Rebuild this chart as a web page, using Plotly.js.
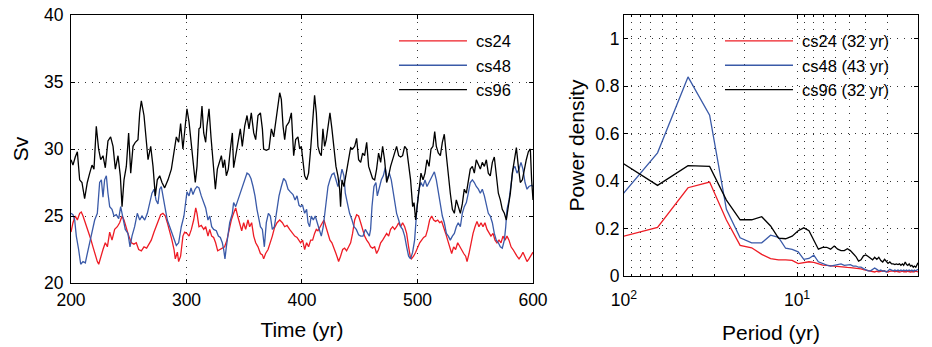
<!DOCTYPE html>
<html><head><meta charset="utf-8">
<script src="https://cdn.plot.ly/plotly-3.0.1.min.js"></script>
<style>html,body{margin:0;padding:0;background:#fff}</style>
</head><body><div id="chart" style="width:932px;height:347px"></div>
<script>
// ---- Left panel: time series (Sv) ----
const t24 = [200,201.7,203.7,205.5,207.5,208.9,210.4,212.4,214.7,217,219,221,222.8,224,225.7,227.7,229.7,231.5,233.5,235.5,237.8,240.1,242.1,244.2,245.9,247.9,250,252.3,254.5,256.5,258.6,260.9,263.2,265.5,267.8,269.5,271.9,273.6,275.3,277.6,279.6,281.7,283.4,285.4,287.4,289.2,290.3,292.1,293.2,294.9,296.9,298.4,
300.4,302.2,304.2,306.2,308,309.1,310.8,312.8,314.9,316.6,318.6,320.1,321.8,323.5,325.2,327,328.7,331,333,335,336.8,338.8,340.8,342.6,344.3,346,347.8,349.5,351.2,353.2,354.7,356.4,358.2,359.9,361.9,364,365.7,366.8,368.5,370.6,372.6,374.3,376.1,378.4,380.7,383,385,387,389.3,391.6,393.7,395.7,
398.8,400.5,402.3,404,405.7,407.5,409.2,410.9,412.4,413.8,415.5,417.3,419,420.7,422.5,424.2,425.9,427.7,429.4,430.6,431.7,433.4,435.2,436.9,438.6,440.4,442.1,443.8,445.6,447.3,449,450.8,452.5,454.2,456,457.7,459.4,461.1,462.9,464.6,466.3,468.1,469.8,471.5,473.3,475,476.7,478.5,480.2,481.9,483.7,485.4,487.1,488.9,490.6,492.3,493.7,494.8,496.6,
498.4,500.1,501.9,503.6,505.3,507.1,508.8,510.5,512.3,514,515.7,517.5,519.2,520.9,522.6,524.4,526.1,527.8,529.6,531.3,533,534.8,536.5,538.2,540,541.7,542.9,544.6,546.3,548.1,549.8,551.5,553.2,555,556.7,558.4,560.2,561.9,563.6,565.4,567.1,568.8,570.6,572.3,574,575.8,577.5,579.2,581,582.7,584.4,586.1,587.9,589.6,591.3,593.1,594.8,596.5,598.3,600];
const v24 = [23.8,24.5,25.0,24.7,25.2,25.3,25.0,24.5,24.0,23.3,22.7,22.0,21.6,21.4,22.0,22.5,23.0,22.7,23.8,23.2,24.0,24.2,24.5,25.0,24.7,24.1,23.5,23.0,22.9,23.0,22.5,22.4,22.7,22.6,23.0,23.2,23.8,24.2,24.7,25.1,25.2,25.0,24.5,23.9,23.2,22.5,21.8,22.3,21.6,22.0,23.5,23.8,
23.7,23.5,24.0,24.7,25.6,25.2,24.2,24.3,24.0,24.2,23.5,24.0,23.5,23.4,23.0,22.4,22.5,22.6,22.7,23.2,24.0,24.7,25.2,25.6,25.0,24.5,23.9,24.5,24.0,24.7,24.2,24.5,23.5,23.0,22.7,22.2,22.1,21.8,22.2,22.5,23.0,23.5,24.1,24.5,24.7,24.5,24.2,24.3,24.0,23.7,23.5,23.4,
23.0,23.2,22.5,23.0,22.7,23.2,23.2,23.7,24.0,23.9,24.2,24.5,24.7,24.2,23.7,23.2,23.0,22.5,22.2,21.9,21.6,22.0,22.5,22.6,22.4,22.7,23.0,23.7,24.7,25.1,25.0,24.5,24.0,23.5,23.2,23.0,22.7,22.6,22.7,22.2,22.5,23.0,23.2,23.5,23.7,23.5,24.0,24.2,24.0,24.2,24.5,24.2,24.5,24.2,23.7,22.7,22.0,21.8,22.0,
22.3,22.7,23.0,23.2,23.4,23.5,24.0,24.7,25.0,24.7,24.6,24.7,24.5,24.6,24.2,23.7,23.2,22.7,22.2,22.7,22.5,23.0,22.7,22.5,22.2,22.0,21.6,22.2,23.0,23.7,24.2,24.6,24.2,24.5,24.2,24.5,24.0,23.7,23.5,23.7,23.2,23.0,23.2,23.0,23.5,23.2,23.5,23.2,22.7,22.5,22.2,22.0,21.8,22.0,22.3,21.9,21.6,21.8,22.1,22.3];

const t48 = [200,201.7,203.2,204.6,206.6,208.4,210.4,212.4,214.1,216.2,218.2,220.5,222.8,224.8,226.3,227.7,229.1,230.6,232,233.5,235.5,237.2,239.2,241.3,243,245,247,249.3,251.1,252.8,255.1,257.4,259.5,261.5,263.8,266.1,268.1,270.1,271.9,273.6,275.3,276.8,278.2,279.9,281.7,283.4,285.4,287.4,289.2,291.2,293.2,295.5,297.8,
300.4,302.2,303.9,305.6,307.4,309.1,310.8,312.8,314.9,316.6,318.6,320.1,321.8,323.5,325.8,327.6,329.3,331,332.2,333.3,334.5,335.9,337.4,339.7,340.8,342.6,344.6,346.6,348.3,350.4,352.4,354.1,355.8,357.6,359.3,361,362.8,364,365.7,367.4,369.1,370.9,372.6,374.3,376.1,377.8,380.1,382.1,384.1,385.9,387.9,389.9,392.2,394,395.7,397.4,
398.8,400.5,402.3,404,405.2,406.6,408,409.8,411.5,413.2,415,416.7,418.4,419.6,421,422.5,424.2,425.9,427.7,429.4,431.1,432.9,434.6,436.3,437.5,439.2,441.2,443.3,445,447,449,450.8,452.8,454.8,456.5,458.3,459.4,460.6,462.3,464,465.2,466.9,468.7,470.4,472.1,473.8,475.6,477.3,478.7,480.2,481.9,483.7,485.4,487.1,488.9,490.6,492.3,494,495.8,
497.5,498.4,499.6,501.3,503,504.8,506.5,508.2,510,511.7,513.4,514.6,516.3,518,519.8,521.5,523.2,525,526.7,528.4,530.2,531.9,533.6,535.3,537.1,538.8,540.5,542.3,544,545.7,547.5,549.2,550.9,552.7,554.4,556.1,557.9,559.6,561.3,563,564.8,566.5,568.2,570,571.7,573.4,575.2,576.4,577.5,579.3,581,582.7,584.4,586.1,587.9,589.6,591.3,593.1,594.8,596.5,598.8,600];
const v48 = [25.2,25.1,24.7,23.5,22.5,21.4,21.6,21.5,22.2,23.0,24.0,24.7,25.2,27.5,27.7,26.4,27.7,28.0,26.7,25.7,25.5,25.0,25.1,24.8,25.7,24.7,24.0,23.7,22.7,23.5,24.2,25.2,24.7,25.0,24.7,25.2,25.9,26.7,27.0,26.2,25.9,27.0,27.2,26.5,25.5,24.7,24.2,23.7,23.3,22.8,23.0,24.2,25.0,
26.8,26.5,27.1,26.6,27.0,27.2,27.1,26.5,26.0,25.6,24.7,25.0,24.2,24.0,23.9,23.5,23.4,23.0,22.5,21.8,22.7,23.7,24.5,25.2,26.0,25.7,26.2,26.7,27.2,27.7,28.2,28.1,27.8,27.2,26.5,25.5,24.7,24.2,24.0,22.7,24.5,25.2,25.0,24.0,24.2,25.2,26.5,27.2,27.8,27.6,27.0,26.8,26.6,26.2,26.5,25.8,
25.7,25.8,25.2,25.5,24.5,24.2,25.0,24.7,25.0,24.5,24.0,23.5,24.2,25.2,26.2,27.2,27.7,28.1,28.2,27.7,27.2,27.7,28.5,28.0,26.7,26.0,25.2,24.7,24.2,24.0,23.6,23.5,23.5,24.0,23.7,23.5,24.0,25.7,27.2,27.5,26.5,27.2,27.7,28.0,28.6,27.7,28.2,27.7,27.0,26.0,25.2,24.7,24.2,24.0,23.5,22.7,22.0,21.8,22.3,
23.2,24.5,25.7,27.0,27.5,27.2,27.7,27.2,27.5,27.7,28.1,28.3,27.7,26.7,25.7,25.0,24.5,23.7,23.5,23.2,23.5,23.7,24.2,24.5,24.2,25.2,25.7,26.0,26.7,27.5,27.7,27.5,27.2,27.0,26.7,27.0,26.5,25.7,25.2,25.0,24.5,23.7,23.2,23.0,22.7,22.6,23.2,24.2,25.5,26.2,27.5,28.5,28.7,28.2,28.5,29.0,28.5,27.5,27.0,27.2,27.3,27.2];

const t96 = [200,201.7,203.7,205.5,207.5,209.5,211.8,214.1,216.2,218.2,219.9,221.9,223.9,225.7,227.7,229.7,232,234.3,236.4,238.4,240.7,242.7,244.2,245.9,247.9,249.9,251.7,253.7,255.7,258,259.5,260.9,263.2,265.2,266.7,269,271,273,274.7,276.8,278.8,281.1,284,286.9,289.2,291.2,293.2,294.9,296.9,298.4,
300.4,302.2,304.2,306.2,307.6,309.1,310.8,312,313.4,314.9,316.6,317.7,319.5,321.2,323,325,326.7,328.7,330.2,331.6,333,334.5,336.2,338,339.7,340.8,342.6,344.6,346.6,348.3,350.4,352.4,354.1,356.1,358.2,359.9,361.9,364,365.7,366.8,369.1,371.4,373.5,375.5,377.2,379,380.7,382.1,383.6,385,386.4,388.7,390.8,392.8,394.5,396.5,398,
399.4,400.8,402.3,404,405.7,407.5,409.2,410.9,412.4,413.8,415.3,416.7,418.1,419.6,421,422.5,424.2,425.9,427.7,429.4,431.1,432.6,433.4,434.6,436.3,438.3,440.4,442.1,443.8,445.6,447.3,449,450.8,452.5,454.2,456,457.7,459.4,461.1,462.9,464.6,466.3,468.1,469.8,471.5,473.3,475,476.7,478.5,480.2,481.9,483.7,485.4,487.1,488.9,490.6,492.3,494,495.8,
497,498.4,499.6,501.3,503,504.8,506.5,508.2,510,511.7,513.4,514.9,516.3,518,519.8,521.5,523.2,525,526.7,528.4,530.2,531.9,533.6,535.3,537.1,538.8,540.5,542.3,544,545.7,547.5,549.2,550.9,552.7,554.4,556.1,557.9,559.6,561.3,563,564.8,566.5,568.2,570,571.7,573.4,575.2,576.9,578.6,580.4,582.1,583.8,585.6,587.3,589,590.8,592.5,594.2,596,597.7,598.8,600];
const v96 = [29.2,28.8,29.4,29.8,27.7,27.5,26.3,27.5,28.2,28.8,28.5,31.7,30.0,29.2,29.5,28.6,30.6,30.9,30.2,28.5,29.5,28.0,25.7,27.7,28.7,31.2,28.2,30.2,30.5,30.7,32.7,33.6,32.5,30.2,29.2,30.2,28.7,26.5,27.7,28.0,27.5,27.1,27.7,28.5,30.0,30.9,30.5,31.9,30.0,31.5,
33.0,32.0,30.2,28.7,27.5,28.7,31.5,31.6,33.2,31.2,30.5,31.7,33.0,30.9,28.7,27.0,28.5,29.0,29.5,28.6,29.2,28.0,28.5,30.0,31.2,28.6,29.5,30.2,31.5,30.2,31.7,32.5,31.5,32.7,31.2,30.7,32.5,32.7,31.5,30.0,29.9,30.0,31.5,30.9,32.0,33.2,34.2,33.7,31.7,30.7,31.7,32.0,32.7,29.5,30.7,30.9,30.0,
30.2,29.2,28.0,27.7,28.2,30.0,31.7,34.0,32.7,30.2,29.7,29.5,31.5,30.2,30.7,31.7,32.7,31.5,30.0,28.7,28.0,27.0,25.7,27.7,27.2,28.2,29.5,30.1,30.0,30.2,30.8,29.2,29.0,29.7,29.5,30.5,28.7,28.2,27.8,27.7,28.5,29.7,29.0,30.2,29.2,27.5,28.0,28.7,29.2,29.7,30.2,29.5,29.4,29.5,30.2,30.0,29.0,27.7,25.7,
26.0,24.7,25.7,27.2,28.2,27.7,28.2,29.2,28.7,30.0,30.2,31.3,30.2,29.7,29.5,30.5,31.1,29.5,28.0,26.7,25.5,25.2,26.2,25.7,25.2,25.9,27.0,26.7,27.5,28.5,28.7,28.2,29.2,28.8,28.5,29.0,28.7,29.2,28.2,28.0,29.0,29.4,28.2,26.7,26.2,25.5,25.2,24.7,25.7,26.7,28.2,29.0,30.1,28.7,27.5,27.7,28.5,29.2,29.8,30.0,27.7,26.2];

// ---- Right panel: power spectra ----
const period = [128,64,42.67,32,25.6,21.33,18.29,16,14.22,12.8,11.64,10.67,9.85,9.14,8.53,8,7.53,7.11,6.74,6.4,6.1,5.82,5.57,5.33,5.12,4.92,4.74,4.57,4.41,4.27,4.13,4,3.88,3.76,3.66,3.56,3.46,3.37,3.28,3.2,3.12,3.05,2.98,2.91,2.84,2.78,2.72,2.67,2.61,2.56,2.51,2.46,2.42,2.37,2.33,2.29,2.25,2.21,2.17,2.13,2.1,2.06,2.03,2.0];
const psd24 = [0.148,0.205,0.372,0.396,0.236,0.129,0.119,0.091,0.073,0.068,0.068,0.066,0.052,0.055,0.060,0.057,0.052,0.046,0.045,0.043,0.040,0.038,0.037,0.036,0.036,0.035,0.034,0.032,0.030,0.030,0.027,0.025,0.022,0.020,0.018,0.017,0.020,0.018,0.020,0.022,0.020,0.018,0.017,0.020,0.022,0.020,0.018,0.020,0.018,0.017,0.018,0.020,0.018,0.017,0.018,0.020,0.018,0.017,0.018,0.017,0.018,0.020,0.018,0.017];
const psd48 = [0.258,0.519,0.839,0.678,0.281,0.161,0.140,0.140,0.172,0.163,0.117,0.112,0.102,0.070,0.074,0.088,0.060,0.051,0.046,0.042,0.045,0.048,0.051,0.045,0.045,0.048,0.042,0.042,0.037,0.037,0.031,0.025,0.022,0.022,0.028,0.034,0.028,0.022,0.025,0.020,0.022,0.017,0.022,0.028,0.025,0.022,0.025,0.022,0.025,0.022,0.025,0.022,0.025,0.022,0.025,0.022,0.025,0.022,0.025,0.020,0.025,0.022,0.025,0.028];
const psd96 = [0.522,0.382,0.465,0.462,0.320,0.237,0.237,0.250,0.211,0.160,0.157,0.168,0.191,0.203,0.191,0.152,0.113,0.121,0.121,0.113,0.126,0.113,0.107,0.107,0.115,0.107,0.093,0.082,0.063,0.068,0.085,0.089,0.082,0.073,0.068,0.079,0.070,0.079,0.065,0.059,0.070,0.062,0.053,0.059,0.051,0.051,0.048,0.051,0.048,0.051,0.045,0.051,0.045,0.059,0.048,0.045,0.051,0.042,0.045,0.037,0.042,0.037,0.051,0.056];

const namesLeft = ['cs24','cs48','cs96'];
const namesRight = ['cs24 (32 yr)','cs48 (43 yr)','cs96 (32 yr)'];
const periodMajorVals = [100,10];
const periodMajorText = ['10<sup>2</sup>','10<sup>1</sup>'];
const periodMinorVals = [90,80,70,60,50,40,30,20,9,8,7,6,5,4,3];

const colors = ['#ee1c25','#3a5aa8','#000000'];
const FONT = 'Liberation Sans, Arial, sans-serif';
const LW = 1.3;

const traces = [
  {x:t24,y:v24,name:namesLeft[0],xaxis:'x',yaxis:'y',legend:'legend',mode:'lines',line:{color:colors[0],width:LW}},
  {x:t48,y:v48,name:namesLeft[1],xaxis:'x',yaxis:'y',legend:'legend',mode:'lines',line:{color:colors[1],width:LW}},
  {x:t96,y:v96,name:namesLeft[2],xaxis:'x',yaxis:'y',legend:'legend',mode:'lines',line:{color:colors[2],width:LW}},
  {x:period,y:psd24,name:namesRight[0],xaxis:'x2',yaxis:'y2',legend:'legend2',mode:'lines',line:{color:colors[0],width:LW}},
  {x:period,y:psd48,name:namesRight[1],xaxis:'x2',yaxis:'y2',legend:'legend2',mode:'lines',line:{color:colors[1],width:LW}},
  {x:period,y:psd96,name:namesRight[2],xaxis:'x2',yaxis:'y2',legend:'legend2',mode:'lines',line:{color:colors[2],width:LW}}
];

const GRIDC = '#333', GRIDD = '1px,6px';
const gridStyle = {showgrid:true, gridcolor:GRIDC, gridwidth:1, griddash:GRIDD};
const frame = {showline:true, linecolor:'#000', linewidth:1, mirror:'ticks', ticks:'inside', ticklen:4, tickcolor:'#000', zeroline:false,
  tickfont:{family:FONT,size:17.5,color:'#000'}};

const layout = {
  width:932, height:347,
  margin:{l:0,r:0,t:0,b:0},
  paper_bgcolor:'#fff', plot_bgcolor:'#fff',
  font:{family:FONT,color:'#000'},
  showlegend:true,
  xaxis:Object.assign({}, frame, gridStyle, {domain:[0.07618,0.57189], range:[200,600], dtick:100, tick0:200,
    title:{text:'Time (yr)', font:{family:FONT,size:21}, standoff:13}, anchor:'y', ticklabelstandoff:1}),
  yaxis:Object.assign({}, frame, gridStyle, {domain:[0.18444,0.95677], range:[20,40], dtick:5, tick0:20,
    title:{text:'Sv', font:{family:FONT,size:21}, standoff:9}, anchor:'x', ticklabelstandoff:3}),
  xaxis2:Object.assign({}, frame, gridStyle, {domain:[0.66953,0.98498], type:'log', range:[2,0.30103],
    tickmode:'array', tickvals:periodMajorVals, ticktext:periodMajorText, ticklabelstandoff:8,
    minor:{tickmode:'array', tickvals:periodMinorVals, showgrid:true, gridcolor:GRIDC, gridwidth:1, griddash:GRIDD, ticks:'inside', ticklen:2, tickcolor:'#000'},
    title:{text:'Period (yr)', font:{family:FONT,size:21}, standoff:16}, anchor:'y2'}),
  yaxis2:Object.assign({}, frame, gridStyle, {domain:[0.20461,0.95677], range:[0,1.1], dtick:0.2, tick0:0,
    title:{text:'Power density', font:{family:FONT,size:21}, standoff:4}, anchor:'x2', ticklabelstandoff:0}),
  legend:{x:0.4195, y:0.932, xanchor:'left', yanchor:'top', bgcolor:'rgba(0,0,0,0)', borderwidth:0, itemwidth:75,
    font:{family:FONT,size:16.5,color:'#000'}, tracegroupgap:0},
  legend2:{x:0.7693, y:0.932, xanchor:'left', yanchor:'top', bgcolor:'rgba(0,0,0,0)', borderwidth:0, itemwidth:75,
    font:{family:FONT,size:16.5,color:'#000'}, tracegroupgap:0}
};

function stretchLegendLines(gd){
  gd.querySelectorAll('.legendlines path').forEach(function(p){ p.setAttribute('d','M8,0h68'); });
}
Plotly.newPlot('chart', traces, layout, {staticPlot:true, displayModeBar:false}).then(function(gd){
  stretchLegendLines(gd);
  setTimeout(function(){ stretchLegendLines(gd); }, 30);
});
</script>
</body></html>
